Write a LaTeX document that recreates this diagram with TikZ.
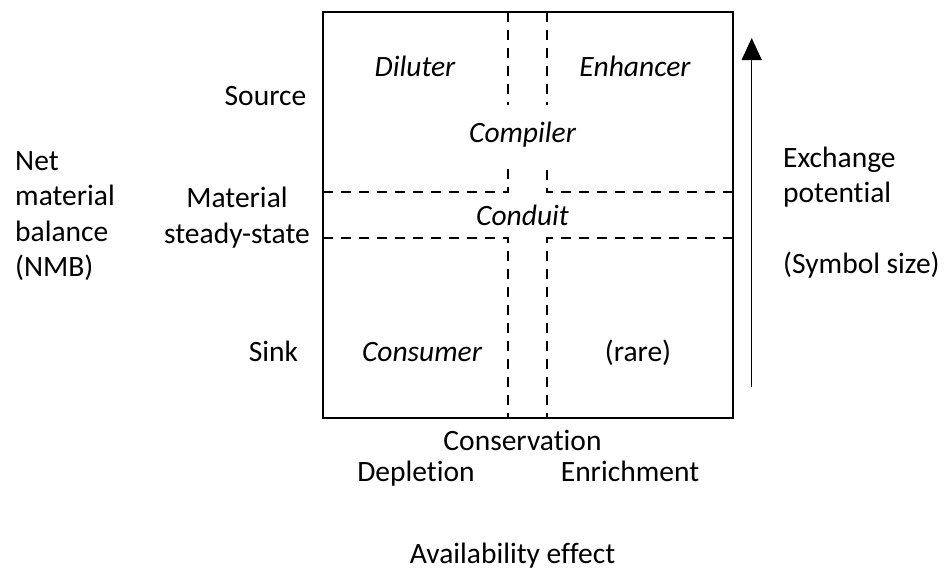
\documentclass[tikz,border=0pt]{standalone}
\usepackage{fontspec}
\setmainfont{Carlito}[Ligatures={NoCommon}]
\usetikzlibrary{arrows.meta}
\begin{document}
\begin{tikzpicture}[x=1pt,y=-1pt,
  lbl/.style={inner sep=0pt,anchor=base,font=\fontsize{29.5}{35.5}\selectfont},
  lblw/.style={lbl,anchor=base west},
  role/.style={lbl,font=\fontsize{29.5}{35.5}\selectfont\itshape},
  frame/.style={line width=2pt},
  divider/.style={line width=1.9pt,dash pattern=on 10pt off 8pt},
  potarrow/.style={line width=1.3pt,-{Triangle[width=20pt,length=22pt]}}]
\useasboundingbox (0,0) rectangle (945,568);
% frame
\coordinate (tl) at (322.5,11.7);
\coordinate (br) at (732.5,418.3);
\draw[frame] (tl) rectangle (br);
% dividers
\coordinate (vla) at (507.7,11.7);
\coordinate (vlb) at (507.7,105);
\coordinate (vra) at (546.7,11.7);
\coordinate (vrb) at (546.7,105);
\draw[divider] (vla) -- (vlb);
\draw[divider] (vra) -- (vrb);
\coordinate (ul1) at (322.5,192);
\coordinate (ul2) at (507.7,192);
\coordinate (ul3) at (507.7,166);
\coordinate (ur1) at (732.5,192);
\coordinate (ur2) at (546.7,192);
\coordinate (ur3) at (546.7,166);
\draw[divider] (ul1) -- (ul2) -- (ul3);
\draw[divider] (ur1) -- (ur2) -- (ur3);
\coordinate (ll1) at (322.5,238.3);
\coordinate (ll2) at (507.7,238.3);
\coordinate (ll3) at (507.7,418.3);
\coordinate (lr1) at (732.5,238.3);
\coordinate (lr2) at (546.7,238.3);
\coordinate (lr3) at (546.7,418.3);
\draw[divider] (ll1) -- (ll2) -- (ll3);
\draw[divider] (lr1) -- (lr2) -- (lr3);
% exchange potential arrow
\coordinate (arrB) at (751.7,387);
\coordinate (arrT) at (751.7,38);
\draw[potarrow] (arrB) -- (arrT);
% roles
\node[role] (diluter) at (415,76) {Diluter};
\node[role] (enhancer) at (635,76) {Enhancer};
\node[role] (compiler) at (522.5,142.7) {Compiler};
\node[role] (conduit) at (522.5,225) {Conduit};
\node[role] (consumer) at (422,361.7) {Consumer};
\node[lbl] (rare) at (638,361.7) {(rare)};
% NMB labels
\node[lbl] (source) at (265.5,105) {Source};
\node[lbl] (material) at (237,207) {Material};
\node[lbl] (steady) at (237,243) {steady-state};
\node[lbl] (sink) at (273.5,361.7) {Sink};
\node[lblw] (nmb1) at (15,170) {Net};
\node[lblw] (nmb2) at (15,205.5) {material};
\node[lblw] (nmb3) at (15,241) {balance};
\node[lblw] (nmb4) at (15,276.5) {(NMB)};
% exchange potential labels
\node[lblw] (ex1) at (783,167) {Exchange};
\node[lblw] (ex2) at (783,202.5) {potential};
\node[lblw] (ex3) at (783,273.5) {(Symbol size)};
% availability labels
\node[lbl] (conservation) at (522.5,450) {Conservation};
\node[lbl] (depletion) at (416,481.7) {Depletion};
\node[lbl] (enrichment) at (630,481.7) {Enrichment};
\node[lbl] (avail) at (512.5,563) {Availability effect};
\end{tikzpicture}
\end{document}
